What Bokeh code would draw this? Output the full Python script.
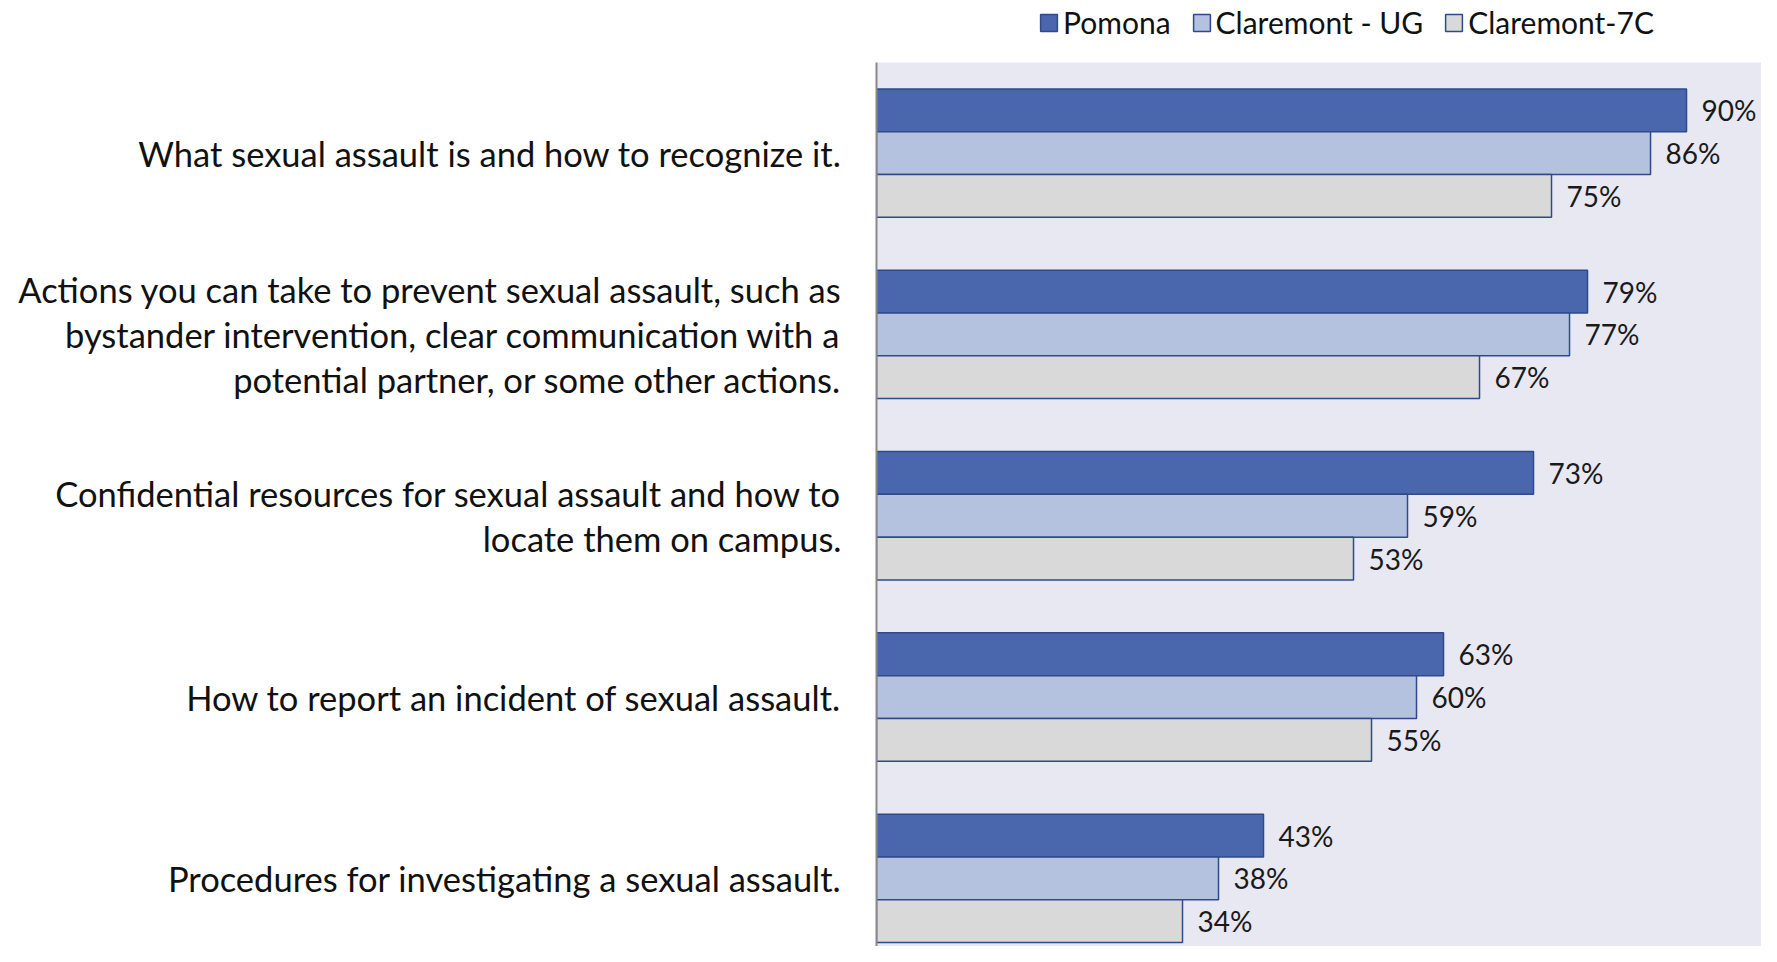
from bokeh.plotting import figure
from bokeh.models import ColumnDataSource, Range1d, FixedTicker, LabelSet, Legend, LegendItem, BoxAnnotation
from bokeh.transform import dodge
from bokeh.core.properties import value
from bokeh.embed import file_html
from bokeh.resources import INLINE

categories = [
    "What sexual assault is and how to recognize it.",
    "Actions you can take to prevent sexual assault, such as\nbystander intervention, clear communication with a\npotential partner, or some other actions.",
    "Confidential resources for sexual assault and how to\nlocate them on campus.",
    "How to report an incident of sexual assault.",
    "Procedures for investigating a sexual assault.",
]
series = ["Pomona", "Claremont - UG", "Claremont-7C"]
pomona = [0.90, 0.79, 0.73, 0.63, 0.43]
claremont_ug = [0.86, 0.77, 0.59, 0.60, 0.38]
claremont_7c = [0.75, 0.67, 0.53, 0.55, 0.34]

colors = ["#4A67AD", "#B4C2E0", "#D9D9D9"]
FONT = "Lato"

pos = list(range(len(categories)))
src = ColumnDataSource(dict(
    y=pos,
    pomona=pomona, ug=claremont_ug, c7=claremont_7c,
    pomona_lbl=[f"{round(v*100)}%" for v in pomona],
    ug_lbl=[f"{round(v*100)}%" for v in claremont_ug],
    c7_lbl=[f"{round(v*100)}%" for v in claremont_7c],
))

W, H = 1761, 946
p = figure(width=W, height=H, output_backend="svg", toolbar_location=None,
           x_range=Range1d(0, 0.9833), y_range=Range1d(4.376, -0.842),
           min_border_left=876, min_border_right=0, min_border_bottom=0, min_border_top=0)
p.background_fill_color = "white"
p.border_fill_color = "white"
p.outline_line_color = None
p.grid.visible = False
p.xaxis.visible = False

# plot-area background below the legend strip
p.add_layout(BoxAnnotation(top=-0.5, bottom=4.376, fill_color="#E8E8F2", fill_alpha=1,
                           line_color=None, level="underlay"))

bh = 0.236
renderers = []
for col, lbl, off, c in [("pomona", "pomona_lbl", -bh, colors[0]),
                         ("ug", "ug_lbl", 0.0, colors[1]),
                         ("c7", "c7_lbl", bh, colors[2])]:
    r = p.hbar(y=dodge("y", off), right=col, left=0, height=bh, source=src,
               fill_color=c, line_color="#2F4A8A", line_width=1.5)
    renderers.append(r)
    ls = LabelSet(x=col, y=dodge("y", off), text=lbl, source=src, x_offset=15,
                  text_baseline="middle", text_align="left",
                  text_font=value(FONT), text_font_size="28px", text_color="#1a1a1a")
    p.add_layout(ls)

ax = p.yaxis[0]
ax.ticker = FixedTicker(ticks=pos)
ax.bounds = (-0.5, 4.376)
ax.major_label_overrides = {i: c for i, c in enumerate(categories)}
ax.major_label_text_font = FONT
ax.major_label_text_font_size = "34.5px"
ax.major_label_text_line_height = 1.09
ax.major_label_text_color = "#111111"
ax.major_label_standoff = 35
ax.major_tick_out = 0
ax.major_tick_in = 0
ax.major_tick_line_color = None
ax.minor_tick_line_color = None
ax.axis_line_color = "#898989"
ax.axis_line_width = 2

legend = Legend(items=[LegendItem(label=s, renderers=[r]) for s, r in zip(series, renderers)],
                orientation="horizontal", location=(162, 906),
                label_text_font=FONT, label_text_font_size="30px", label_text_color="#111111",
                glyph_width=21, glyph_height=21, label_standoff=4, spacing=20,
                padding=0, margin=0, label_height=32, border_line_color=None,
                background_fill_alpha=0)
p.add_layout(legend)

open("out.html", "w").write(file_html(p, INLINE))
